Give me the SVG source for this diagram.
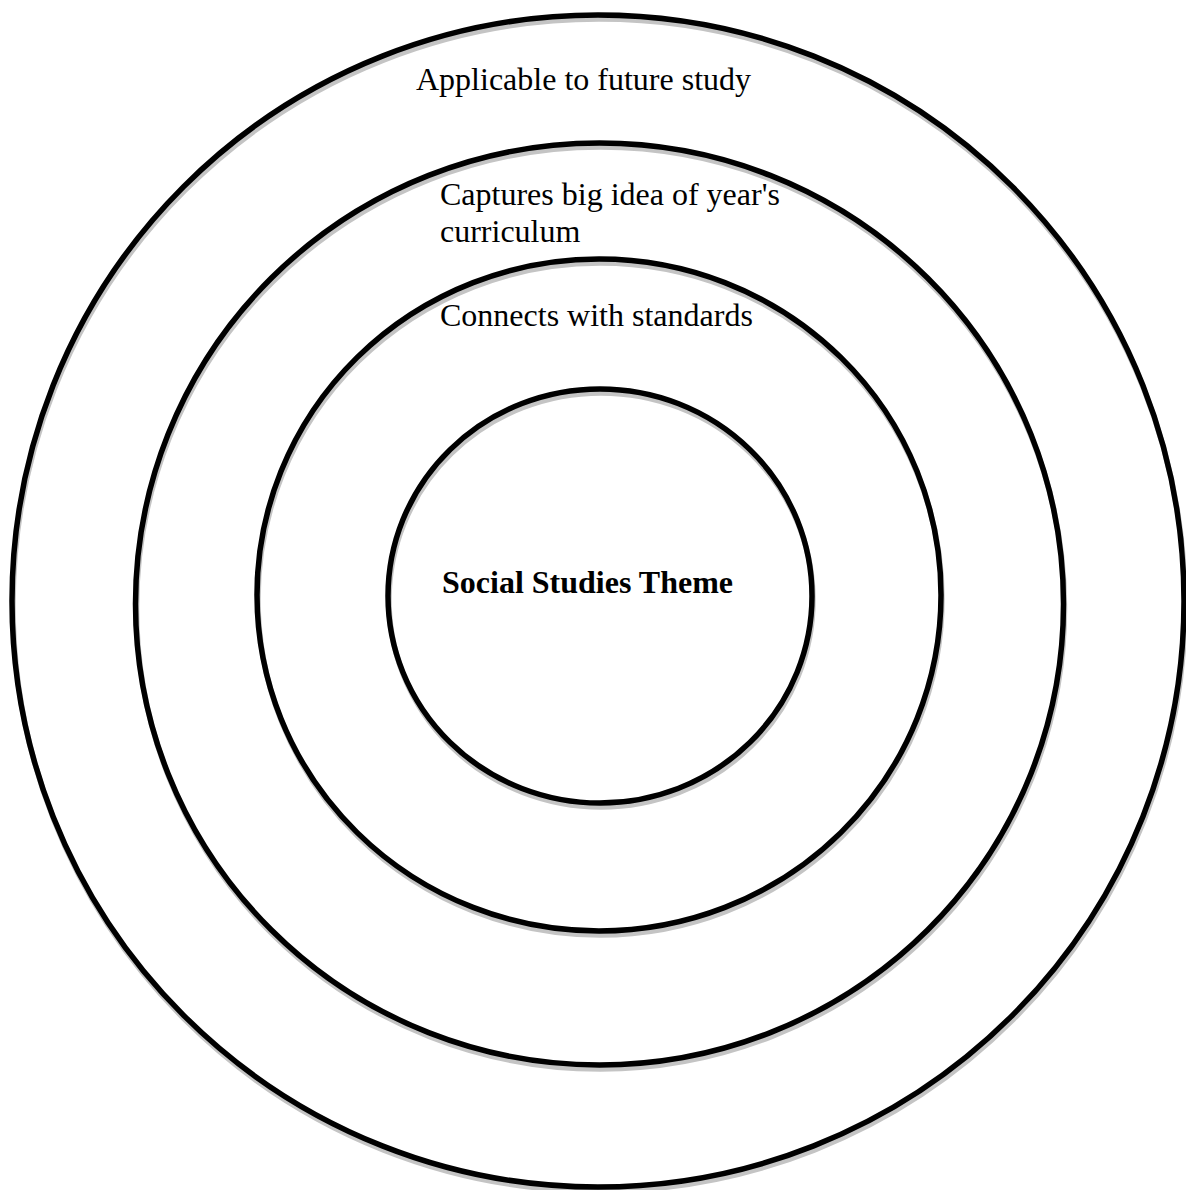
<svg xmlns="http://www.w3.org/2000/svg" width="1186" height="1190" viewBox="0 0 1186 1190">
<style>
.shadow{fill:none;stroke:#c4c4c4;stroke-width:5.5}
.ring{fill:none;stroke:#000;stroke-width:5.5}
.lbl{font-family:"Liberation Serif","Times New Roman",serif;font-size:32px;fill:#000}
.bold{font-weight:bold}
</style>
<rect width="1186" height="1190" fill="#fff"/>
<g id="ring-outer">
<ellipse class="shadow" cx="599" cy="605" rx="586" ry="586"/>
<ellipse class="ring" cx="598" cy="601" rx="586" ry="586"/>
<text class="lbl" x="416" y="90">Applicable to future study</text>
</g>
<g id="ring-second">
<ellipse class="shadow" cx="600.5" cy="608" rx="464" ry="461"/>
<ellipse class="ring" cx="599.5" cy="604" rx="464" ry="461"/>
<text class="lbl" x="440" y="205">Captures big idea of year's</text>
<text class="lbl" x="440" y="242">curriculum</text>
</g>
<g id="ring-third">
<ellipse class="shadow" cx="600" cy="599" rx="342" ry="336"/>
<ellipse class="ring" cx="599" cy="595" rx="342" ry="336"/>
<text class="lbl" x="440" y="326">Connects with standards</text>
</g>
<g id="center">
<ellipse class="shadow" cx="601" cy="600" rx="212" ry="207"/>
<ellipse class="ring" cx="600" cy="596" rx="212" ry="207"/>
<text class="lbl bold" x="442" y="593">Social Studies Theme</text>
</g>
<g id="connectors"></g>
</svg>
